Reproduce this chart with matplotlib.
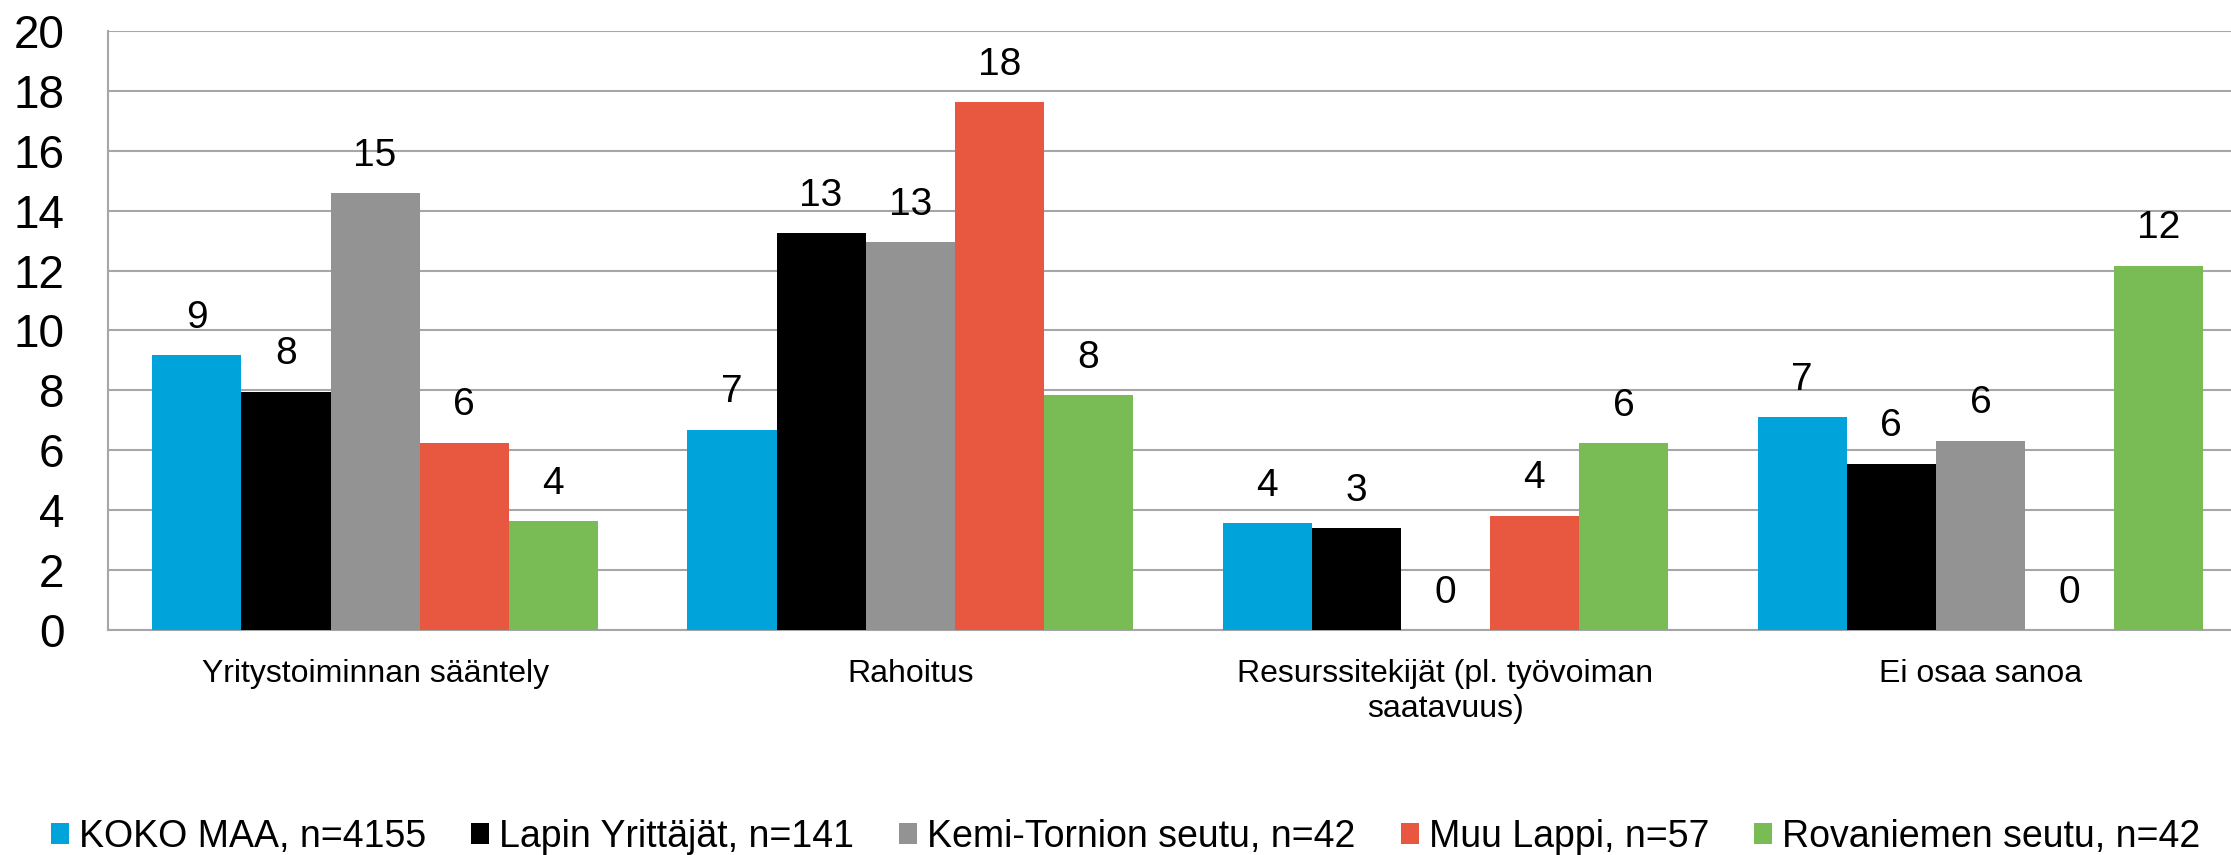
import numpy as np
import matplotlib
matplotlib.use("Agg")
import matplotlib.pyplot as plt
from matplotlib.patches import Patch

plt.rcParams['font.family'] = ['Liberation Sans', 'DejaVu Sans']

# kategoriat ja sarjat
categories = ["Yritystoiminnan sääntely", "Rahoitus",
              "Resurssitekijät (pl. työvoiman\nsaatavuus)", "Ei osaa sanoa"]
series = ["KOKO MAA, n=4155", "Lapin Yrittäjät, n=141", "Kemi-Tornion seutu, n=42",
          "Muu Lappi, n=57", "Rovaniemen seutu, n=42"]
koko_maa = [9.17, 6.69, 3.57, 7.10]
lapin_yrittajat = [7.95, 13.25, 3.40, 5.56]
kemi_tornio = [14.58, 12.94, 0, 6.32]
muu_lappi = [6.26, 17.62, 3.82, 0]
rovaniemi = [3.64, 7.83, 6.23, 12.16]
values = [koko_maa, lapin_yrittajat, kemi_tornio, muu_lappi, rovaniemi]
colors = ['#00A3DA', '#000000', '#939393', '#E85840', '#79BC55']

fig = plt.figure(figsize=(22.31, 8.55), dpi=100)
# kuvaaja jatkuu hieman oikean reunan yli kuten alkuperäisessä
ax = fig.add_axes([0.0482, 0.263, 0.9594, 0.701])

x = np.arange(len(categories))
w = 0.1665
for i, (vals, c) in enumerate(zip(values, colors)):
    pos = x + (i - 2) * w
    bars = ax.bar(pos, vals, width=w, color=c, zorder=3)
    for b, v in zip(bars, vals):
        ax.annotate(f"{v:.0f}", (b.get_x() + b.get_width() / 2, v),
                    xytext=(0, 14), textcoords="offset points",
                    ha="center", va="bottom", fontsize=28)

ax.set_xlim(-0.5, 3.5)
ax.set_ylim(0, 20)
ax.set_yticks(range(0, 21, 2))
ax.yaxis.grid(True, color='#A6A6A6', linewidth=1.5)
ax.set_axisbelow(True)
ax.set_xticks(x)
ax.set_xticklabels(categories, fontsize=23, linespacing=1.2)
ax.tick_params(axis='x', length=0, pad=21)
ax.tick_params(axis='y', length=0, pad=31, labelsize=33)
for s in ['top', 'right']:
    ax.spines[s].set_visible(False)
for s in ['left', 'bottom']:
    ax.spines[s].set_color('#A6A6A6')
    ax.spines[s].set_linewidth(1.5)

handles = [Patch(facecolor=c, edgecolor='none') for c in colors]
fig.legend(handles, series, loc='center', bbox_to_anchor=(0.5045, 0.021), ncol=5,
           frameon=False, fontsize=27, handlelength=0.48, handleheight=0.48,
           handletextpad=0.27, columnspacing=1.2, borderaxespad=0)

fig.savefig("out.png", dpi=100)
